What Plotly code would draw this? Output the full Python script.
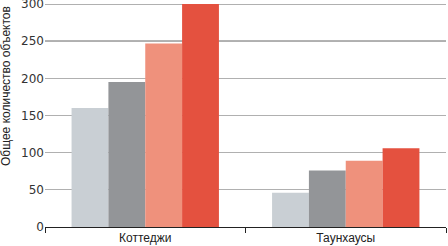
import plotly.graph_objects as go

categories = ["Коттеджи", "Таунхаусы"]
series_a = [160, 46]
series_b = [195, 76]
series_c = [247, 89]
series_d = [300, 106]
colors = ["#c9cfd4", "#939598", "#ef917c", "#e4513f"]
y_ticks = [0, 50, 100, 150, 200, 250, 300]
y_title = "Общее количество объектов"

fig = go.Figure()
for vals, col in zip([series_a, series_b, series_c, series_d], colors):
    fig.add_trace(go.Bar(x=categories, y=vals, marker=dict(color=col, line=dict(width=0)), showlegend=False))

fig.add_shape(type="line", xref="paper", x0=0, x1=1, yref="y", y0=250, y1=250,
              line=dict(color="#222222", width=1), layer="below")

W, H = 448, 246
ML, MR, MT, MB = 45, 2, 2, 19
pw, ph = W - ML - MR, H - MT - MB

fig.add_annotation(text=y_title, textangle=-90, showarrow=False,
                   xref="paper", yref="paper",
                   x=(6 - ML) / pw, y=(H - MB - 86) / ph,
                   xanchor="center", yanchor="middle",
                   font=dict(family="Liberation Sans, Arial, sans-serif", size=12, color="#222222"))

fig.update_layout(
    width=W, height=H,
    margin=dict(l=ML, r=MR, t=MT, b=MB, autoexpand=False),
    paper_bgcolor="white", plot_bgcolor="white",
    barmode="group", bargap=0.265, bargroupgap=0,
    font=dict(family="Liberation Sans, Arial, sans-serif", size=12, color="#222222"),
    xaxis=dict(tickson="boundaries", ticks="outside", ticklen=5, tickcolor="#222222",
               showline=True, linecolor="#222222", linewidth=1, showgrid=False,
               tickfont=dict(size=12), automargin=False),
    yaxis=dict(range=[0, 300 * ph / (ph - 2)], tickvals=y_ticks, showgrid=True, gridcolor="#b0b0b0", gridwidth=1,
               zeroline=False, showline=False, ticks="", automargin=False, ticklabeloverflow="allow",
               tickfont=dict(family="DejaVu Sans, sans-serif", size=12, color="#333333")),
)

fig.write_html("out.html", config={"displayModeBar": False},
               post_script="document.body.style.margin='0';document.body.style.overflow='hidden';")
